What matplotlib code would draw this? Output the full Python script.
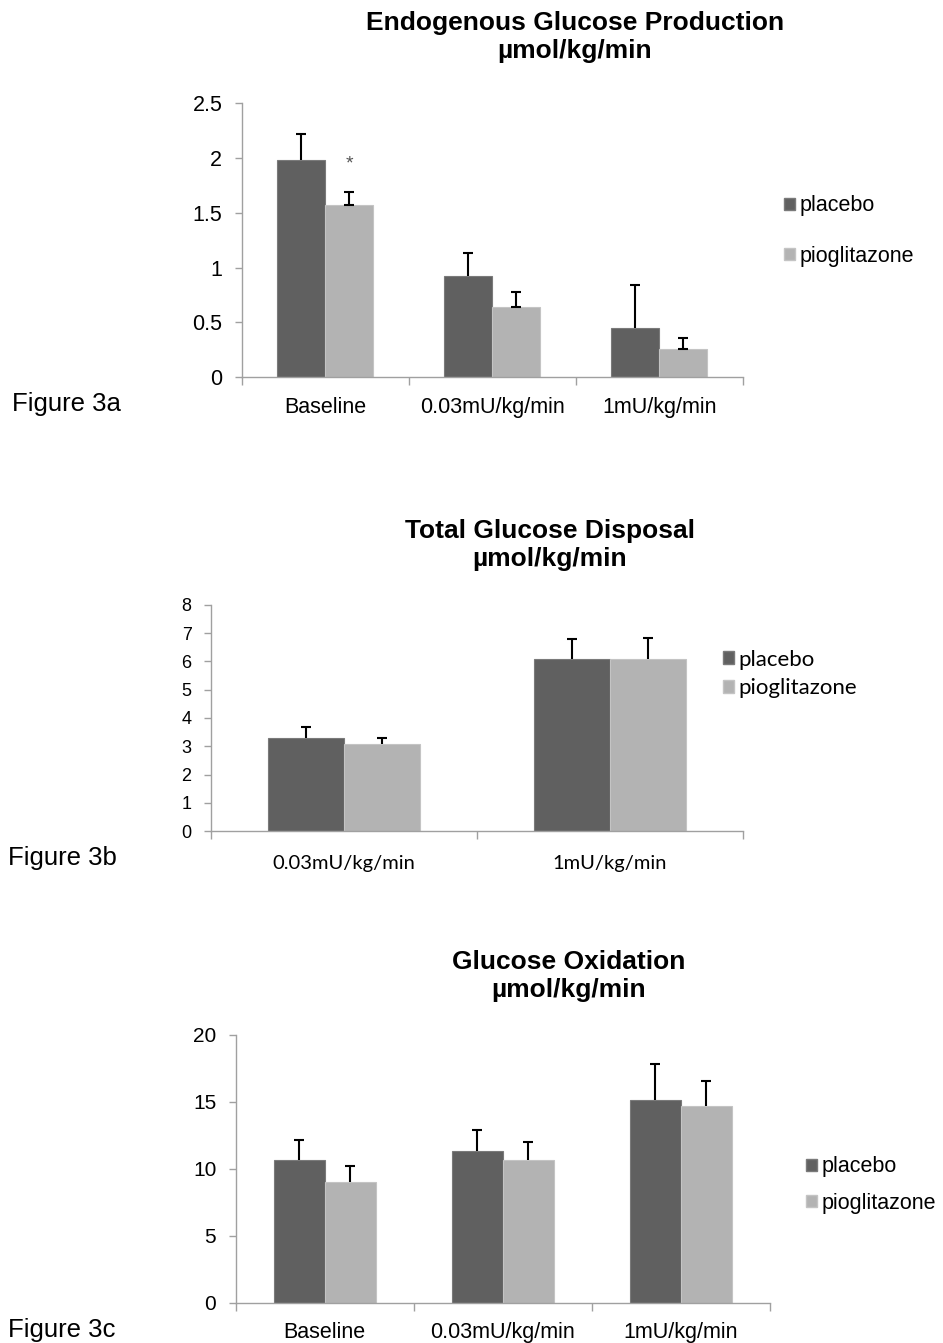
import numpy as np
import matplotlib
matplotlib.use("Agg")
import matplotlib.pyplot as plt
from matplotlib.patches import Patch

# Figure 3a - endogenous glucose production
egp_cats = ["Baseline", "0.03mU/kg/min", "1mU/kg/min"]
egp_placebo = [1.98, 0.92, 0.45]
egp_placebo_err = [0.24, 0.21, 0.39]
egp_pio = [1.57, 0.64, 0.26]
egp_pio_err = [0.12, 0.14, 0.10]

# Figure 3b - total glucose disposal
tgd_cats = ["0.03mU/kg/min", "1mU/kg/min"]
tgd_placebo = [3.30, 6.08]
tgd_placebo_err = [0.37, 0.71]
tgd_pio = [3.07, 6.08]
tgd_pio_err = [0.23, 0.74]

# Figure 3c - glucose oxidation
gox_cats = ["Baseline", "0.03mU/kg/min", "1mU/kg/min"]
gox_placebo = [10.65, 11.3, 15.15]
gox_placebo_err = [1.49, 1.62, 2.65]
gox_pio = [9.0, 10.65, 14.65]
gox_pio_err = [1.23, 1.34, 1.89]

series_names = ["placebo", "pioglitazone"]

DARK = "#606060"
LIGHT = "#b3b3b3"
AXCOL = "#a0a0a0"

W, H = 943, 1343
fig = plt.figure(figsize=(W / 100, H / 100), dpi=100)


def px_axes(l, t, r, b):
    return fig.add_axes([l / W, 1 - b / H, (r - l) / W, (b - t) / H])


def fx(x):
    return x / W


def fy(y):
    return 1 - y / H


def panel(ax, cats, pl, pl_err, pio, pio_err, ymax, ystep, tickfont, tick_fs,
          xfont, x_fs, xpad, ypad, pio_lowcap=False):
    n = len(cats)
    x = np.arange(n) + 0.5
    w = 1 / 3.5
    ax.bar(x - w / 2, pl, w, color=DARK, edgecolor="#7a7a7a", linewidth=0.8, zorder=2)
    ax.bar(x + w / 2, pio, w, color=LIGHT, edgecolor="#c4c4c4", linewidth=0.8, zorder=2)
    for xs, vals, errs, lowcap in [(x - w / 2, pl, pl_err, False),
                                   (x + w / 2, pio, pio_err, pio_lowcap)]:
        eb = ax.errorbar(xs, vals, yerr=[np.zeros(n), errs], fmt="none",
                         ecolor="black", elinewidth=1.5, capsize=3.5,
                         capthick=1.5, zorder=3)
        if not lowcap:
            eb[1][0].set_visible(False)
    ax.set_xlim(0, n)
    ax.set_ylim(0, ymax)
    ax.set_yticks(np.arange(0, ymax + ystep / 2, ystep))
    ax.set_yticklabels([f"{v:g}" for v in np.arange(0, ymax + ystep / 2, ystep)],
                       fontsize=tick_fs, family=tickfont)
    ax.set_xticks(x)
    ax.set_xticklabels(cats, fontsize=x_fs, family=xfont)
    ax.set_xticks(np.arange(n + 1), minor=True)
    ax.tick_params(axis="x", which="major", length=0, pad=xpad)
    ax.tick_params(axis="x", which="minor", length=6, width=1, color=AXCOL, direction="out")
    ax.tick_params(axis="y", length=5, width=1, color=AXCOL, pad=ypad)
    for s in ["top", "right"]:
        ax.spines[s].set_visible(False)
    for s in ["left", "bottom"]:
        ax.spines[s].set_color(AXCOL)
        ax.spines[s].set_linewidth(1.0)


def legend(ax, x, y, font, fs, spacing):
    handles = [Patch(facecolor=DARK, edgecolor="#7a7a7a"),
               Patch(facecolor=LIGHT, edgecolor="#c4c4c4")]
    ax.legend(handles, series_names, loc="center left",
              bbox_to_anchor=(fx(x), fy(y)), bbox_transform=fig.transFigure,
              frameon=False, handlelength=0.5, handleheight=0.5,
              handletextpad=0.2, labelspacing=spacing, borderpad=0,
              borderaxespad=0, prop={"family": font, "size": fs})


ARIAL = "Liberation Sans"
CALI = "Lato"

# --- panel a
ax_a = px_axes(241.7, 103.3, 742.7, 377.3)
panel(ax_a, egp_cats, egp_placebo, egp_placebo_err, egp_pio, egp_pio_err,
      2.5, 0.5, ARIAL, 15.5, ARIAL, 15.5, 14, 9, pio_lowcap=True)
ax_a.text(0.5 + 1 / 7, egp_placebo[0] - 0.03, "*", ha="center", va="center",
          fontsize=14, color="#555555", family=ARIAL)
legend(ax_a, 784, 231, ARIAL, 15.5, 1.35)
fig.text(fx(575), fy(37), "Endogenous Glucose Production\nµmol/kg/min",
         ha="center", va="center", fontsize=19, fontweight="bold",
         family=ARIAL, linespacing=1.2)
fig.text(fx(12), fy(404), "Figure 3a", ha="left", va="center", fontsize=18.5, family=ARIAL)

# --- panel b
ax_b = px_axes(211, 604.7, 742.7, 831.3)
panel(ax_b, tgd_cats, tgd_placebo, tgd_placebo_err, tgd_pio, tgd_pio_err,
      8, 1, ARIAL, 13, CALI, 14.5, 17, 9)
legend(ax_b, 723, 674, CALI, 16, 0.4)
fig.text(fx(550), fy(545), "Total Glucose Disposal\nµmol/kg/min",
         ha="center", va="center", fontsize=19, fontweight="bold",
         family=ARIAL, linespacing=1.2)
fig.text(fx(8), fy(858), "Figure 3b", ha="left", va="center", fontsize=18.5, family=ARIAL)

# --- panel c
ax_c = px_axes(235.7, 1034.7, 769.7, 1302.7)
panel(ax_c, gox_cats, gox_placebo, gox_placebo_err, gox_pio, gox_pio_err,
      20, 5, ARIAL, 15, ARIAL, 15.5, 14, 9)
legend(ax_c, 806, 1185, ARIAL, 15.5, 0.7)
fig.text(fx(569), fy(976), "Glucose Oxidation\nµmol/kg/min",
         ha="center", va="center", fontsize=19, fontweight="bold",
         family=ARIAL, linespacing=1.2)
fig.text(fx(8), fy(1330), "Figure 3c", ha="left", va="center", fontsize=18.5, family=ARIAL)

fig.savefig("out.png", dpi=100)
